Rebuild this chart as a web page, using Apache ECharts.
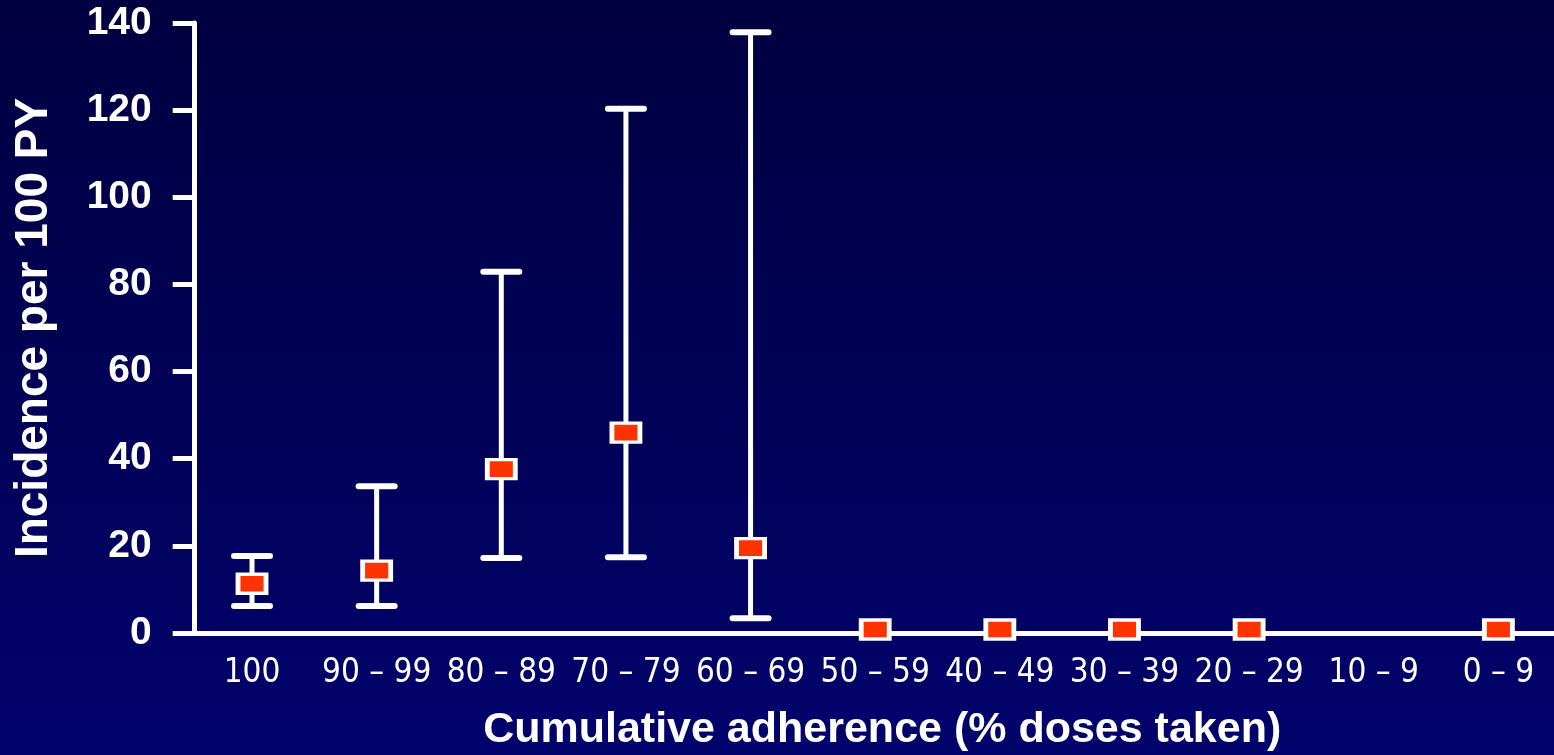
<!DOCTYPE html>
<html>
<head>
<meta charset="utf-8">
<script src="https://cdn.jsdelivr.net/npm/echarts@6/dist/echarts.min.js"></script>
<style>
html,body{margin:0;padding:0;width:1554px;height:755px;overflow:hidden;background:#000048;}
#chart{width:1554px;height:755px;}
</style>
</head>
<body>
<div id="chart"></div>
<script>
var categories = ['100', '90 \u2013 99', '80 \u2013 89', '70 \u2013 79', '60 \u2013 69', '50 \u2013 59', '40 \u2013 49', '30 \u2013 39', '20 \u2013 29', '10 \u2013 9', '0 \u2013 9'];
var incidence = [11.3, 14.3, 37.6, 46.0, 19.5, 0.8, 0.8, 0.8, 0.8, null, 0.8];
var ciLow = [6.2, 6.2, 17.2, 17.4, 3.4, null, null, null, null, null, null];
var ciHigh = [17.7, 33.7, 82.9, 120.3, 137.9, null, null, null, null, null, null];
var yTicks = [0, 20, 40, 60, 80, 100, 120, 140];

var errData = [];
for (var i = 0; i < categories.length; i++) {
  if (ciLow[i] != null && ciHigh[i] != null) errData.push([i, ciLow[i], ciHigh[i]]);
}
var pointData = incidence.map(function (v, i) { return v == null ? [i, '-'] : [i, v]; });

var chart = echarts.init(document.getElementById('chart'), null, {renderer: 'canvas'});
chart.setOption({
  backgroundColor: {
    type: 'linear', x: 0, y: 0, x2: 0, y2: 1,
    colorStops: [{offset: 0, color: '#000040'}, {offset: 1, color: '#02026c'}]
  },
  animation: false,
  grid: {left: 189.7, top: 23, width: 1371, height: 610, outerBoundsMode: 'none', containLabel: false},
  xAxis: {
    type: 'category',
    data: categories,
    boundaryGap: true,
    axisLine: {lineStyle: {color: '#ffffff', width: 5}},
    axisTick: {show: false},
    axisLabel: {
      color: '#ffffff', fontSize: 33, margin: 24,
      fontFamily: "'Liberation Sans Narrow', 'DejaVu Sans Condensed', 'Arial Narrow', sans-serif",
      interval: 0
    },
    splitLine: {show: false},
    name: 'Cumulative adherence (% doses taken)',
    nameLocation: 'middle',
    nameGap: 76,
    nameTextStyle: {color: '#ffffff', fontSize: 43, fontWeight: 'bold', padding: [0, 0, 0, 14], fontFamily: "'Liberation Sans', Arial, sans-serif"}
  },
  yAxis: {
    type: 'value',
    min: yTicks[0], max: yTicks[yTicks.length - 1], interval: 20,
    offset: -5,
    axisLine: {show: true, lineStyle: {color: '#ffffff', width: 5}},
    axisTick: {show: true, length: 22, lineStyle: {color: '#ffffff', width: 5}},
    axisLabel: {color: '#ffffff', fontSize: 39, fontWeight: 'bold', margin: 43, fontFamily: "'Liberation Sans', Arial, sans-serif"},
    splitLine: {show: false},
    name: 'Incidence per 100 PY',
    nameLocation: 'middle',
    nameGap: 137,
    nameTextStyle: {color: '#ffffff', fontSize: 46, fontWeight: 'bold', fontFamily: "'Liberation Sans', Arial, sans-serif"}
  },
  series: [
    {
      type: 'custom',
      data: errData,
      encode: {x: 0, y: [1, 2]},
      z: 2,
      renderItem: function (params, api) {
        var x = api.value(0);
        var pLo = api.coord([x, api.value(1)]);
        var pHi = api.coord([x, api.value(2)]);
        var hw = 18;
        var cap = {stroke: '#ffffff', lineWidth: 6, lineCap: 'round'};
        return {
          type: 'group',
          children: [
            {type: 'line', shape: {x1: pLo[0], y1: pLo[1], x2: pHi[0], y2: pHi[1]}, style: {stroke: '#ffffff', lineWidth: 5}},
            {type: 'line', shape: {x1: pHi[0] - hw, y1: pHi[1], x2: pHi[0] + hw, y2: pHi[1]}, style: cap},
            {type: 'line', shape: {x1: pLo[0] - hw, y1: pLo[1], x2: pLo[0] + hw, y2: pLo[1]}, style: cap}
          ]
        };
      }
    },
    {
      type: 'scatter',
      data: pointData,
      symbol: 'rect',
      symbolSize: [28, 19],
      z: 3,
      itemStyle: {color: '#ff3300', borderColor: '#ffffff', borderWidth: 4, opacity: 1}
    }
  ]
});
</script>
</body>
</html>
